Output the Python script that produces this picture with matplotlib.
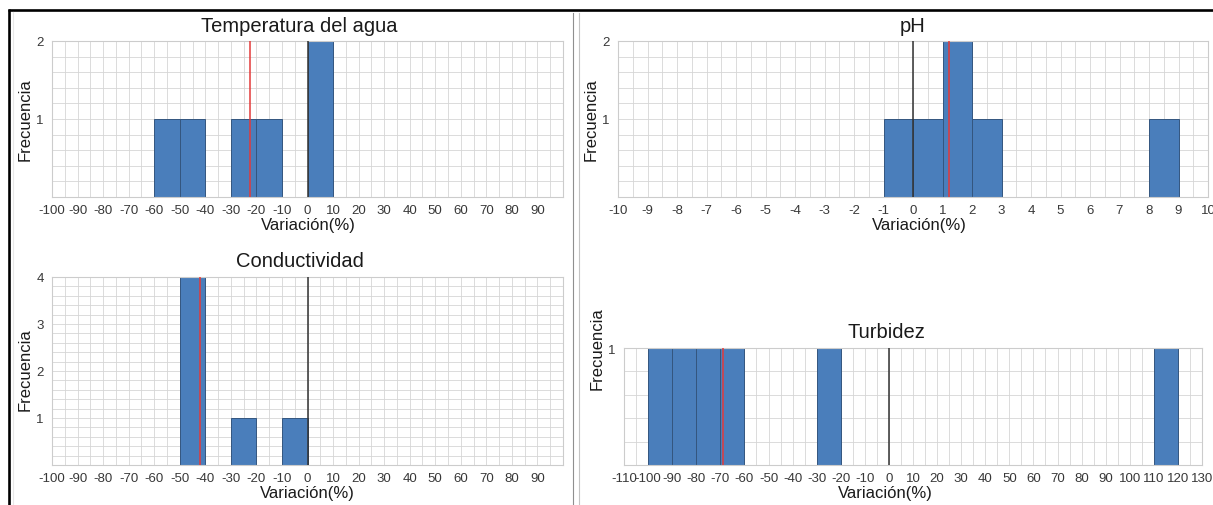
import matplotlib
matplotlib.use('Agg')
import matplotlib.pyplot as plt
from matplotlib.ticker import MultipleLocator, FixedLocator
from matplotlib.lines import Line2D

plt.rcParams['font.family'] = ['Liberation Sans', 'DejaVu Sans']

# ---------------- data ----------------
temp_bin_left = [-60, -50, -30, -20, 0]
temp_counts = [1, 1, 1, 1, 2]
temp_mean = -22.5
temp_ticks = [-100, -90, -80, -70, -60, -50, -40, -30, -20, -10,
              0, 10, 20, 30, 40, 50, 60, 70, 80, 90]

ph_bin_left = [-1, 0, 1, 2, 8]
ph_counts = [1, 1, 2, 1, 1]
ph_mean = 1.22
ph_ticks = [-10, -9, -8, -7, -6, -5, -4, -3, -2, -1,
            0, 1, 2, 3, 4, 5, 6, 7, 8, 9, 10]

cond_bin_left = [-50, -30, -10]
cond_counts = [4, 1, 1]
cond_mean = -42
cond_ticks = [-100, -90, -80, -70, -60, -50, -40, -30, -20, -10,
              0, 10, 20, 30, 40, 50, 60, 70, 80, 90]

turb_bin_left = [-100, -90, -80, -70, -30, 110]
turb_counts = [1, 1, 1, 1, 1, 1]
turb_mean = -69
turb_ticks = [-110, -100, -90, -80, -70, -60, -50, -40, -30, -20, -10,
              0, 10, 20, 30, 40, 50, 60, 70, 80, 90, 100, 110, 120, 130]

titles = ["Temperatura del agua", "pH", "Conductividad", "Turbidez"]
xlabel_text = "Variación(%)"
ylabel_text = "Frecuencia"

# ---------------- style ----------------
W, H, DPI = 1213, 506, 100
BAR = '#4a7ebb'
EDGE = '#34567f'
RED = '#e33a3a'
ZERO = '#333333'
GRID = '#d6d6d6'
FRAME = '#cccccc'
TICK = '#383838'
TXT = '#1a1a1a'

fig = plt.figure(figsize=(W / DPI, H / DPI), dpi=DPI)
fig.patch.set_facecolor('white')


def px_axes(l, t, r, b):
    return fig.add_axes([l / W, 1 - b / H, (r - l) / W, (b - t) / H])


def ftext(x, y, s, **kw):
    fig.text(x / W, 1 - y / H, s, **kw)


def panel(ax, bin_left, counts, width, mean, xlim, xticks, xminor, ymax, yticks):
    ax.set_xlim(*xlim)
    ax.set_ylim(0, ymax)
    ax.bar(bin_left, counts, width=width, align='edge', color=BAR,
           edgecolor=EDGE, linewidth=0.7, zorder=2)
    ax.axvline(0, color=ZERO, lw=1.1, zorder=3)
    ax.axvline(mean, color=RED, lw=1.1, zorder=4)
    ax.xaxis.set_major_locator(FixedLocator(xticks))
    ax.set_xticklabels([str(t) for t in xticks])
    ax.xaxis.set_minor_locator(MultipleLocator(xminor))
    ax.yaxis.set_major_locator(FixedLocator(yticks))
    ax.set_yticklabels([str(t) for t in yticks])
    ax.yaxis.set_minor_locator(MultipleLocator(0.2))
    ax.grid(which='both', color=GRID, lw=0.6)
    ax.set_axisbelow(True)
    ax.tick_params(which='both', length=0)
    ax.tick_params(axis='x', pad=5.0, labelsize=9.5, labelcolor=TICK)
    ax.tick_params(axis='y', pad=6, labelsize=9.5, labelcolor=TICK)
    for s in ax.spines.values():
        s.set_color(FRAME)
        s.set_linewidth(0.8)


ax1 = px_axes(52, 42, 563, 198)
panel(ax1, temp_bin_left, temp_counts, 10, temp_mean, (-100, 100),
      temp_ticks, 5, 2, [1, 2])

ax2 = px_axes(618, 42, 1208, 198)
panel(ax2, ph_bin_left, ph_counts, 1, ph_mean, (-10, 10),
      ph_ticks, 0.5, 2, [1, 2])

ax3 = px_axes(52, 278, 563, 466)
panel(ax3, cond_bin_left, cond_counts, 10, cond_mean, (-100, 100),
      cond_ticks, 5, 4, [1, 2, 3, 4])

ax4 = px_axes(624, 349, 1202, 466)
panel(ax4, turb_bin_left, turb_counts, 10, turb_mean, (-110, 130),
      turb_ticks, 5, 1, [1])

# titles
tkw = dict(ha='center', va='baseline', fontsize=14.5, color=TXT)
ftext(299, 31.5, titles[0], **tkw)
ftext(913, 31.5, titles[1], **tkw)
ftext(300, 267.5, titles[2], **tkw)
ftext(886, 338.5, titles[3], **tkw)

# x labels
xkw = dict(ha='center', va='baseline', fontsize=12, color=TXT)
ftext(308, 230, xlabel_text, **xkw)
ftext(919, 230, xlabel_text, **xkw)
ftext(307, 498, xlabel_text, **xkw)
ftext(885, 498, xlabel_text, **xkw)

# y labels
ykw = dict(ha='center', va='center', rotation=90, fontsize=12, color=TXT)
ftext(25, 120, ylabel_text, **ykw)
ftext(591, 120, ylabel_text, **ykw)
ftext(25, 370, ylabel_text, **ykw)
ftext(597, 349, ylabel_text, **ykw)

# frame decorations (pixel coordinates)
def fline(x0, y0, x1, y1, **kw):
    fig.add_artist(Line2D([x0 / W, x1 / W], [1 - y0 / H, 1 - y1 / H],
                          transform=fig.transFigure, **kw))

fline(8, 11, W, 11, color='black', lw=1.9, solid_capstyle='butt')
fline(9, 10, 9, H, color='black', lw=1.9, solid_capstyle='butt')
fline(12.5, 13, 12.5, H, color='#e8e8e8', lw=0.8)
fline(573, 14, 573, H, color='#8f8f8f', lw=0.8)
fline(579, 14, 579, H, color='#c4c4c4', lw=0.8)

fig.savefig('out.png', dpi=DPI)
